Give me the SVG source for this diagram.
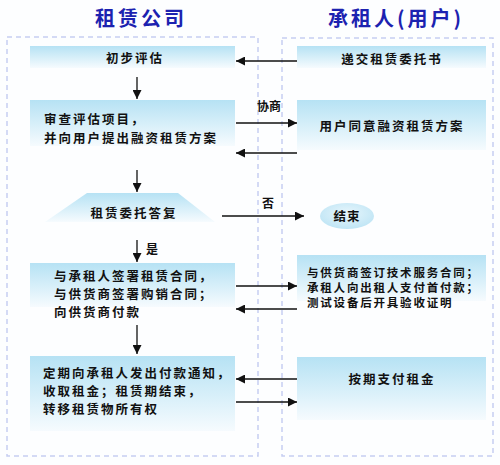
<svg xmlns="http://www.w3.org/2000/svg" width="500" height="465" viewBox="0 0 500 465">
<defs>
<linearGradient id="g" x1="0" y1="0" x2="0" y2="1">
<stop offset="0" stop-color="#b6e2f4"/>
<stop offset="0.6" stop-color="#dcf1fa"/>
<stop offset="1" stop-color="#f6fbfe"/>
</linearGradient>
<radialGradient id="eg" cx="0.5" cy="0.4" r="0.6">
<stop offset="0" stop-color="#e8f6fc"/>
<stop offset="1" stop-color="#bfe5f5"/>
</radialGradient>
<marker id="ah" viewBox="0 0 10 10" refX="10" refY="5" markerWidth="9" markerHeight="9" markerUnits="userSpaceOnUse" orient="auto">
<path d="M0,0 L10,5 L0,10 z" fill="#111"/>
</marker>
</defs>
<style>
.cont{fill:none;stroke:#c6cef2;stroke-width:1.5;stroke-dasharray:5 4}
.box{fill:url(#g)}
.t{font-family:"Noto Sans CJK SC","Noto Sans",sans-serif;font-size:12.5px;font-weight:bold;fill:#111;letter-spacing:2px}
.s{font-size:11.5px;letter-spacing:1.8px}
.c{text-anchor:middle}
.ttl{font-family:"Noto Sans CJK SC","Noto Sans",sans-serif;font-size:20px;font-weight:bold;fill:#1c22b0;letter-spacing:3px;text-anchor:middle}
.lbl{font-family:"Noto Sans CJK SC","Noto Sans",sans-serif;font-size:12px;font-weight:bold;fill:#111}
.ar{stroke:#111;stroke-width:1.3;fill:none;marker-end:url(#ah)}
</style>
<rect width="500" height="465" fill="#fdfeff"/>
<g id="titles">
<text class="ttl" x="141" y="26">租赁公司</text>
<text class="ttl" x="396" y="26">承租人(用户)</text>
</g>
<g id="containers">
<rect class="cont" x="7" y="37" width="251" height="419"/>
<rect class="cont" x="282" y="38" width="211" height="418"/>
</g>
<g id="n1"><rect class="box" x="30" y="46" width="205" height="22"/><text class="t c" x="135" y="63">初步评估</text></g>
<g id="n2"><rect class="box" x="30" y="100" width="205" height="46"/><text class="t" x="44" y="124">审查评估项目，</text><text class="t" x="44" y="143">并向用户提出融资租赁方案</text></g>
<g id="n3"><polygon points="87,193 178,193 215,222 45,222" fill="url(#g)"/><text class="t c" x="134" y="218">租赁委托答复</text></g>
<g id="n4"><rect class="box" x="30" y="263" width="205" height="44"/><text class="t" x="54" y="281">与承租人签署租赁合同，</text><text class="t" x="54" y="299">与供货商签署购销合同；</text><text class="t" x="54" y="317">向供货商付款</text></g>
<g id="n5"><rect class="box" x="30" y="356" width="205" height="75"/><text class="t" x="43" y="378">定期向承租人发出付款通知，</text><text class="t" x="43" y="396">收取租金；租赁期结束，</text><text class="t" x="43" y="414">转移租赁物所有权</text></g>
<g id="r1"><rect class="box" x="297" y="46" width="189" height="22"/><text class="t c" x="392" y="64">递交租赁委托书</text></g>
<g id="r2"><rect class="box" x="297" y="100" width="189" height="50"/><text class="t c" x="392" y="131">用户同意融资租赁方案</text></g>
<g id="end"><ellipse cx="347" cy="216" rx="27" ry="13" fill="url(#eg)"/><text class="t c" x="347" y="221" style="letter-spacing:1px">结束</text></g>
<g id="r4"><rect class="box" x="297" y="255" width="189" height="46"/><text class="t s" x="307" y="277">与供货商签订技术服务合同；</text><text class="t s" x="307" y="292">承租人向出租人支付首付款；</text><text class="t s" x="307" y="307">测试设备后开具验收证明</text></g>
<g id="r5"><rect class="box" x="297" y="357" width="189" height="63"/><text class="t c" x="392" y="384">按期支付租金</text></g>
<g id="connectors">
<line class="ar" x1="297" y1="61" x2="236" y2="61"/>
<line class="ar" x1="137" y1="77" x2="137" y2="99"/>
<line class="ar" x1="236" y1="123" x2="297" y2="123"/>
<line class="ar" x1="297" y1="153" x2="236" y2="153"/>
<line class="ar" x1="137" y1="170" x2="137" y2="192"/>
<line class="ar" x1="222" y1="216" x2="304" y2="216"/>
<line class="ar" x1="137" y1="240" x2="137" y2="262"/>
<line class="ar" x1="236" y1="286" x2="297" y2="286"/>
<line class="ar" x1="297" y1="309" x2="236" y2="309"/>
<line class="ar" x1="137" y1="325" x2="137" y2="354"/>
<line class="ar" x1="297" y1="379" x2="236" y2="379"/>
<line class="ar" x1="236" y1="402" x2="297" y2="402"/>
<text class="lbl" x="257" y="111">协商</text>
<text class="lbl" x="262" y="208">否</text>
<text class="lbl" x="146" y="254">是</text>
</g>
</svg>
